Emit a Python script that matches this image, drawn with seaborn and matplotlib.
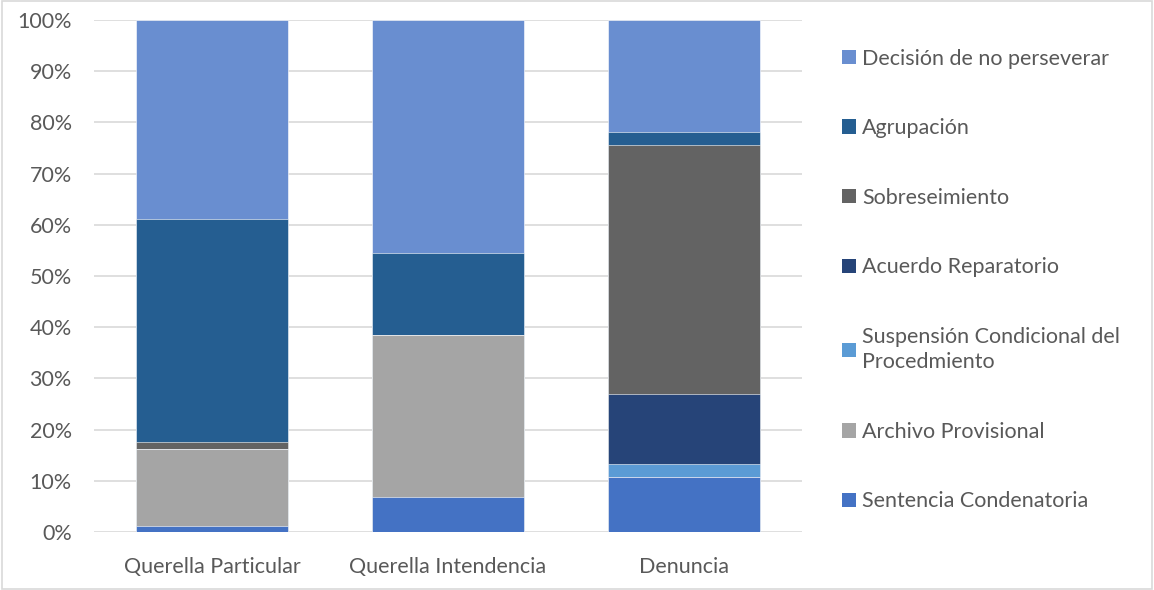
import numpy as np
import pandas as pd
import matplotlib
matplotlib.use("Agg")
import matplotlib.pyplot as plt
from matplotlib.patches import Patch, Rectangle
import seaborn as sns

# --- data (percent of cases per origin) ---
categories = ["Querella Particular", "Querella Intendencia", "Denuncia"]
series = ["Sentencia Condenatoria", "Archivo Provisional",
          "Suspensión Condicional del\nProcedmiento", "Acuerdo Reparatorio",
          "Sobreseimiento", "Agrupación", "Decisión de no perseverar"]
sentencia = [1.2, 6.8, 10.8]
archivo = [15.0, 31.7, 0.0]
suspension = [0.0, 0.0, 2.5]
acuerdo = [0.0, 0.0, 13.7]
sobreseimiento = [1.3, 0.0, 48.5]
agrupacion = [43.6, 16.0, 2.7]
decision = [38.9, 45.5, 21.8]
colors = ["#4472C4", "#A5A5A5", "#5B9BD5", "#264478",
          "#636363", "#255E91", "#698ED0"]

df = pd.DataFrame({
    series[0]: sentencia, series[1]: archivo, series[2]: suspension,
    series[3]: acuerdo, series[4]: sobreseimiento, series[5]: agrupacion,
    series[6]: decision,
}, index=categories)
cum = df.cumsum(axis=1)

sns.set_theme(style="white")
plt.rcParams["font.family"] = ["Lato", "DejaVu Sans"]
FS = 15.5

fig = plt.figure(figsize=(11.54, 5.90), dpi=100)
ax = fig.add_axes([0.0815, 0.0983, 0.6135, 0.8678])

# draw from the top segment down so lower stacks overlay the taller ones
for name, col in zip(series[::-1], colors[::-1]):
    sns.barplot(x=categories, y=cum[name].values, color=col, ax=ax,
                width=0.644, saturation=1, edgecolor="white", linewidth=0.4,
                zorder=3)

ax.set_ylim(0, 100)
ax.set_yticks(np.arange(0, 101, 10))
ax.set_yticklabels([f"{v}%" for v in range(0, 101, 10)])
ax.yaxis.grid(True, color="#D9D9D9", linewidth=1.2, zorder=0)
ax.set_axisbelow(True)
for s in ax.spines.values():
    s.set_visible(False)
ax.tick_params(axis="both", length=0, labelsize=FS, colors="#595959")
ax.tick_params(axis="y", pad=16)
ax.tick_params(axis="x", pad=18)
ax.set_xlabel("")
ax.set_ylabel("")

handles = [Patch(facecolor=c, edgecolor="none") for c in colors[::-1]]
leg = ax.legend(handles, series[::-1], loc="upper left",
                bbox_to_anchor=(0.722, 0.932), bbox_transform=fig.transFigure,
                frameon=False, fontsize=FS, labelcolor="#595959",
                handlelength=0.65, handleheight=0.65, handletextpad=0.3,
                labelspacing=2.3, borderaxespad=0)
for t in leg.get_texts():
    t.set_linespacing(1.35)

fig.patches.append(Rectangle((0.002, 0.002), 0.996, 0.996, transform=fig.transFigure,
                             fill=False, edgecolor="#D9D9D9", linewidth=1.2))

fig.savefig("out.png", dpi=100)
